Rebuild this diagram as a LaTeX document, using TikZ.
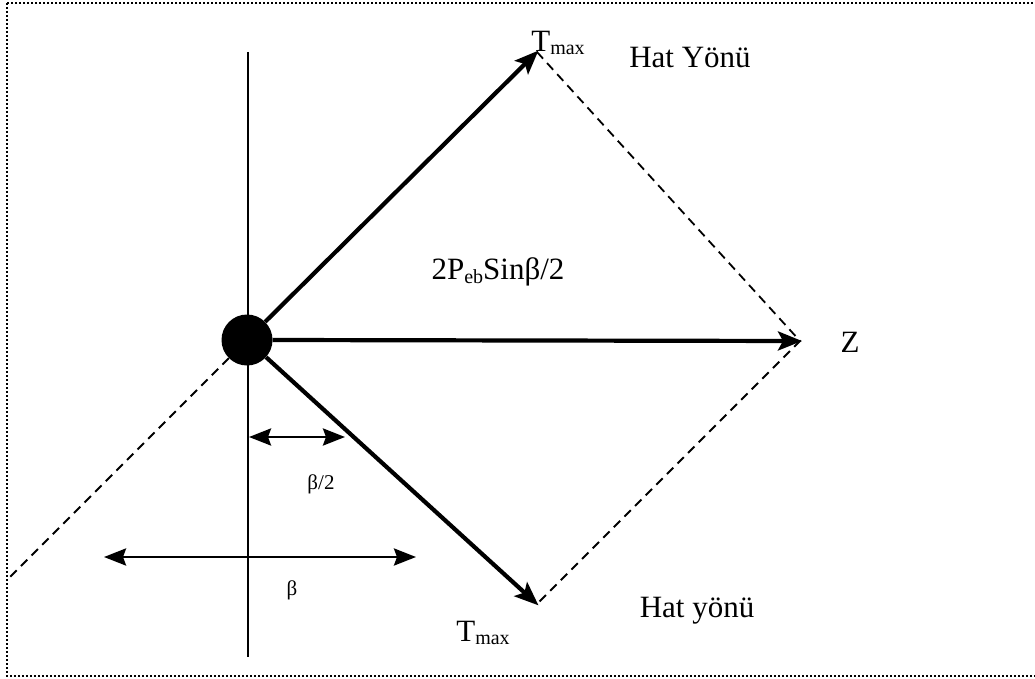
\documentclass[tikz,border=0pt]{standalone}
\usepackage{fontspec}
\setmainfont{Liberation Serif}
\usetikzlibrary{arrows.meta}
\begin{document}
\begin{tikzpicture}[x=1pt,y=-1pt,
  bigtxt/.style={font=\fontsize{31}{36}\selectfont, inner sep=0pt},
  smalltxt/.style={font=\fontsize{21}{24}\selectfont, inner sep=0pt},
  force/.style={line width=4.2pt, -{Stealth[length=24pt,width=19pt,inset=5pt]}, shorten >=-2pt},
  dim/.style={line width=2.8pt, {Stealth[length=22pt,width=17pt,inset=3pt]}-{Stealth[length=22pt,width=17pt,inset=3pt]}},
  guide/.style={line width=1.8pt, dash pattern=on 9pt off 6pt},
  axis/.style={line width=2.8pt}]
\useasboundingbox (0,0) rectangle (1035,679);
\draw[line width=2pt, dotted] (7,3) rectangle (1045,676);
% nodes
\node[circle, fill=black, minimum size=51pt, inner sep=0pt] (c) at (247,340) {};
\coordinate (t1) at (537,52);
\coordinate (t2) at (537,604);
\coordinate (z) at (800,341);
\coordinate (vtop) at (248,52);
\coordinate (vbot) at (248,657);
\coordinate (ll) at (7,580);
% axis
\draw[axis] (vtop) -- (vbot);
% dashed guides
\draw[guide] (t1) -- (z) -- (t2);
\draw[guide] (c.225) -- (ll);
% forces
\draw[force] (c.45) -- (t1);
\draw[force] (c.east) -- (z);
\draw[force] (c.-42) -- (t2);
% dimension arrows
\coordinate (a1) at (249,437);
\coordinate (a2) at (345,437);
\coordinate (b1) at (104,557);
\coordinate (b2) at (416,557);
\draw[dim] (a1) -- (a2);
\draw[dim] (b1) -- (b2);
% labels
\node[bigtxt] (tm1) at (558,43) {T\raisebox{-0.25ex}{\fontsize{20}{20}\selectfont max}};
\node[bigtxt] (tm2) at (483,633) {T\raisebox{-0.25ex}{\fontsize{20}{20}\selectfont max}};
\node[bigtxt] (h1) at (690,58) {Hat Yönü};
\node[bigtxt] (h2) at (697,611) {Hat yönü};
\node[bigtxt] (f) at (498,272) {2P\raisebox{-0.25ex}{\fontsize{20}{20}\selectfont eb}Sinβ/2};
\node[bigtxt] (zl) at (850,342) {Z};
\node[smalltxt] (l1) at (321,484) {β/2};
\node[smalltxt] (l2) at (292,590) {β};
\end{tikzpicture}
\end{document}
